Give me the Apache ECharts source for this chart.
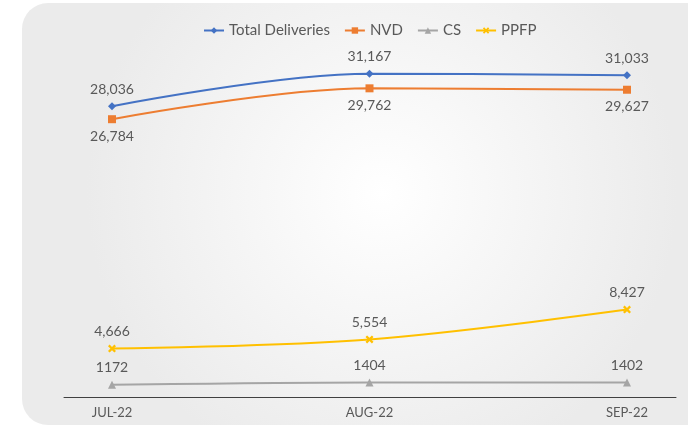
<!DOCTYPE html>
<html>
<head>
<meta charset="utf-8">
<script src="https://cdn.jsdelivr.net/npm/echarts@6/dist/echarts.min.js"></script>
<style>
  html, body { margin: 0; padding: 0; background: #fff; }
  #chart { width: 688px; height: 427px; }
</style>
</head>
<body>
<div id="chart"></div>
<script>
const months = ["JUL-22", "AUG-22", "SEP-22"];
const totalDeliveries = [28036, 31167, 31033];
const nvd = [26784, 29762, 29627];
const cs = [1172, 1404, 1402];
const ppfp = [4666, 5554, 8427];

const textColor = "#595959";
const font = "Lato, 'Open Sans', sans-serif";
const crossPath = "path://M2,0L5,3L8,0L10,2L7,5L10,8L8,10L5,7L2,10L0,8L3,5L0,2Z";

const chart = echarts.init(document.getElementById("chart"));

function lineSeries(name, data, color, symbol, labelPos, fmt) {
  return {
    name: name,
    type: "line",
    data: data,
    smooth: 0.35,
    symbol: symbol,
    symbolSize: 8,
    lineStyle: { color: color, width: 2 },
    itemStyle: { color: color },
    label: {
      show: true,
      position: labelPos,
      distance: 6,
      color: textColor,
      fontFamily: font,
      fontSize: 14,
      formatter: (p) => fmt ? p.value.toLocaleString("en-US") : String(p.value),
    },
  };
}

chart.setOption({
  animation: false,
  textStyle: { fontFamily: font },
  graphic: [
    {
      type: "rect",
      z: -10,
      shape: { x: 22, y: 3, width: 720, height: 422, r: 26 },
      style: {
        fill: new echarts.graphic.RadialGradient(0.5, 0.45, 0.7, [
          { offset: 0, color: "#ffffff" },
          { offset: 1, color: "#ebebeb" },
        ]),
      },
    },
  ],
  legend: {
    top: 18,
    left: 198,
    itemWidth: 20,
    itemHeight: 8,
    itemGap: 14,
    textStyle: { color: textColor, fontSize: 15, fontFamily: font },
    data: ["Total Deliveries", "NVD", "CS", "PPFP"],
  },
  grid: [
    { left: 112, right: 61, top: 34, bottom: 30 },
    { left: 64, right: 12, top: 34, bottom: 30 },
  ],
  xAxis: [
    {
      type: "category",
      data: months,
      boundaryGap: false,
      axisLine: { show: false },
      axisTick: { show: false },
      axisLabel: { color: textColor, fontSize: 13, fontFamily: font, margin: 9 },
    },
    {
      type: "category",
      gridIndex: 1,
      data: months,
      axisLine: { show: true, lineStyle: { color: "#404040", width: 1 } },
      axisTick: { show: false },
      axisLabel: { show: false },
    },
  ],
  yAxis: [
    { type: "value", min: 0, max: 35000, show: false },
    { type: "value", gridIndex: 1, min: 0, max: 35000, show: false },
  ],
  series: [
    lineSeries("Total Deliveries", totalDeliveries, "#4472C4", "diamond", "top", true),
    lineSeries("NVD", nvd, "#ED7D31", "rect", "bottom", true),
    lineSeries("CS", cs, "#A5A5A5", "triangle", "top", false),
    lineSeries("PPFP", ppfp, "#FFC000", crossPath, "top", true),
  ],
});
</script>
</body>
</html>
